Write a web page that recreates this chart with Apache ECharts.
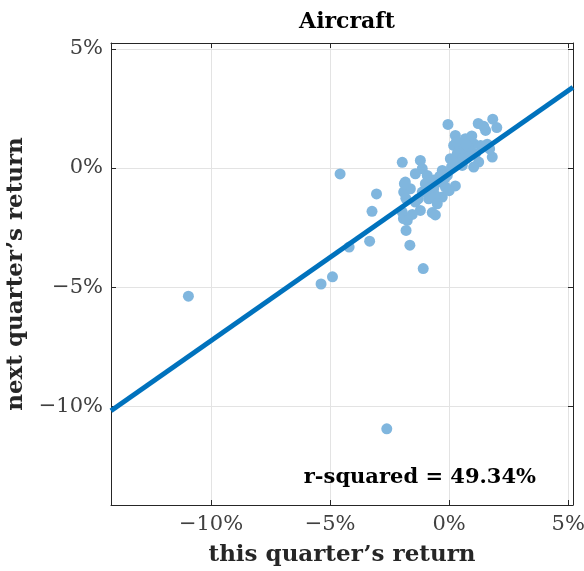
<!DOCTYPE html>
<html>
<head>
<meta charset="utf-8">
<script src="https://cdn.jsdelivr.net/npm/echarts@6/dist/echarts.min.js"></script>
<style>html,body{margin:0;padding:0;background:#fff;}#c{width:584px;height:571px;}</style>
</head>
<body>
<div id="c"></div>
<script>
// this quarter's return (%), next quarter's return (%)
const thisQuarter = [
  -10.95, -4.58, -3.05, -3.24, -3.34, -4.20, -4.90, -5.38, -2.62, -1.09, -1.65, -1.81, -1.92,
  -0.05, 1.22, 1.83, 2.00, 1.53, 1.45, 0.26, 0.68, 1.03, 0.19, 0.47, 0.34, 0.05, 0.68, 1.81,
  1.24, 1.03, 0.55, -1.97, -1.21, -1.13, -1.42, -0.92, -0.29, -0.08, 0.26, -0.44, -0.65,
  -1.84, -1.91, -1.13, -0.86, -0.29, -0.16, -1.42, -1.97, -1.21, -0.71, -0.58, -1.63, -1.00,
  0.55, 0.89, 1.32, -0.58, -1.76, -1.82, -1.88, -0.79, -0.65,
  0.80, 1.10, 0.40, 0.10, -0.40, -0.90, -1.30, -0.50, 0.70, 0.95, 1.60, 0.30, -1.55, -0.20, 0.00, 1.70
];
const nextQuarter = [
  -5.38, -0.25, -1.09, -1.82, -3.07, -3.32, -4.57, -4.87, -10.95, -4.22, -3.24, -2.62, -2.12,
  1.83, 1.87, 2.05, 1.70, 1.58, 1.75, 1.37, 1.23, 1.02, 0.95, 0.81, 0.60, 0.39, 0.53, 0.46,
  0.25, 0.04, 0.11, 0.24, 0.32, -0.03, -0.24, -0.31, -0.10, -0.31, -0.75, -0.59, -0.87,
  -0.59, -1.01, -1.01, -1.29, -1.22, -0.80, -1.43, -1.85, -1.78, -1.87, -1.15, -0.87, -0.66,
  0.39, 0.74, 0.95, -1.97, -2.20, -1.27, -0.66, -1.20, -0.50,
  0.90, 0.60, 0.20, 0.05, -0.35, -0.85, -1.30, -1.50, 1.00, 1.35, 1.00, 1.10, -1.95, -0.45, -0.95, 0.80
];
const xTicks = [-10, -5, 0, 5];
const yTicks = [-10, -5, 0, 5];
const xRange = [-14.2, 5.2];
const yRange = [-14.15, 5.25];
const fitSlope = 0.70;
const fitIntercept = -0.25;
const rSquaredText = 'r-squared = 49.34%';

const points = thisQuarter.map((x, i) => [x, nextQuarter[i]]);
const fitLine = xRange.map(x => [x, fitIntercept + fitSlope * x]);

const FONT = 'DejaVu Serif';
const fmt = v => {
  const r = Math.round(v);
  if (Math.abs(v - r) > 1e-6 || !xTicks.concat(yTicks).includes(r)) return '';
  return (r < 0 ? '\u2212' + Math.abs(r) : String(r)) + '%';
};
const axisCommon = {
  splitNumber: 4,
  axisLine: {show: true, onZero: false, lineStyle: {color: '#262626', width: 1}},
  axisTick: {show: true, inside: true, length: 5, lineStyle: {color: '#262626'}},
  axisLabel: {fontFamily: FONT, fontSize: 21, color: '#404040', formatter: fmt, showMinLabel: false, showMaxLabel: false},
  splitLine: {show: true, lineStyle: {color: '#e3e3e3', width: 1}},
  nameTextStyle: {fontFamily: FONT, fontSize: 23, fontWeight: 'bold', color: '#262626'}
};
const mirror = {
  splitNumber: 4,
  axisLine: {show: true, onZero: false, lineStyle: {color: '#262626', width: 1}},
  axisTick: {show: true, inside: true, length: 5, lineStyle: {color: '#262626'}},
  axisLabel: {show: false},
  splitLine: {show: false}
};

const chart = echarts.init(document.getElementById('c'), null, {renderer: 'canvas'});
chart.setOption({
  animation: false,
  backgroundColor: '#fff',
  title: {
    text: 'Aircraft', left: 342, textAlign: 'center', top: 6,
    textStyle: {fontFamily: FONT, fontSize: 22, fontWeight: 'bold', color: '#000'}
  },
  grid: {left: 111, right: 11, top: 43, bottom: 66, containLabel: false, outerBoundsMode: 'none'},
  xAxis: [
    Object.assign({}, axisCommon, {
      type: 'value', min: xRange[0], max: xRange[1], position: 'bottom',
      name: 'this quarter\u2019s return', nameLocation: 'middle', nameGap: 39,
      axisLabel: Object.assign({}, axisCommon.axisLabel, {margin: 9})
    }),
    Object.assign({}, mirror, {type: 'value', min: xRange[0], max: xRange[1], position: 'top'})
  ],
  yAxis: [
    Object.assign({}, axisCommon, {
      type: 'value', min: yRange[0], max: yRange[1], position: 'left',
      name: 'next quarter\u2019s return', nameLocation: 'middle', nameGap: 78,
      axisLabel: Object.assign({}, axisCommon.axisLabel, {margin: 8})
    }),
    Object.assign({}, mirror, {type: 'value', min: yRange[0], max: yRange[1], position: 'right'})
  ],
  series: [
    {
      type: 'scatter', data: points, symbolSize: 11,
      itemStyle: {color: '#80b6de', opacity: 1},
      z: 2
    },
    {
      type: 'line', data: fitLine, showSymbol: false, symbol: 'none',
      lineStyle: {color: '#0072bd', width: 5}, z: 3
    }
  ],
  graphic: [{
    type: 'text', right: 48, top: 467, z: 10,
    style: {text: rSquaredText, font: 'bold 21px "DejaVu Serif"', fill: '#000'}
  }]
});
</script>
</body>
</html>
